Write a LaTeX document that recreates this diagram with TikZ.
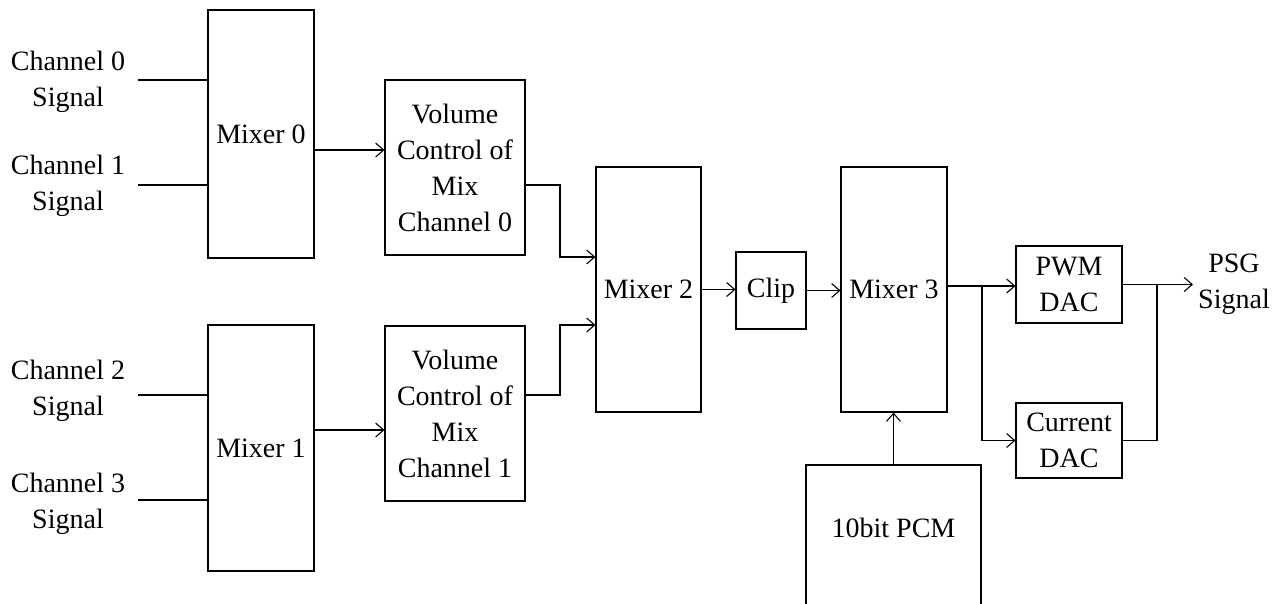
\documentclass[tikz,border=0pt]{standalone}
\usepackage{fontspec}
\setmainfont{Liberation Serif}
\usetikzlibrary{calc,arrows.meta}
\begin{document}
\begin{tikzpicture}[x=1pt,y=-1pt,
  txt/.style={align=center,inner sep=0pt,font=\fontsize{28}{36}\selectfont},
  blk/.style={draw,line width=1.1pt,txt},
  ln/.style={line width=1.1pt},
  arr/.style={ln,-{Straight Barb[length=8pt,width=14pt,line width=1.1pt]}}]
\useasboundingbox (0,0) rectangle (1284,603);
% labels
\node[txt] (ch0) at (68,82) {Channel 0\\Signal};
\node[txt] (ch1) at (68,186) {Channel 1\\Signal};
\node[txt] (ch2) at (68,391) {Channel 2\\Signal};
\node[txt] (ch3) at (68,504) {Channel 3\\Signal};
\node[txt] (psg) at (1234,284) {PSG\\Signal};
% boxes
\node[blk,minimum width=106pt,minimum height=248pt] (m0) at (261,134) {Mixer 0};
\node[blk,minimum width=106pt,minimum height=246pt] (m1) at (261,448) {Mixer 1};
\node[blk,minimum width=140pt,minimum height=175pt] (v0) at (455,167.5) {Volume\\Control of\\Mix\\Channel 0};
\node[blk,minimum width=140pt,minimum height=175pt] (v1) at (455,413.5) {Volume\\Control of\\Mix\\Channel 1};
\node[blk,minimum width=105pt,minimum height=245pt] (m2) at (648.5,289.5) {Mixer 2};
\node[blk,minimum width=70pt,minimum height=77pt] (clip) at (771,290.5) {Clip};
\node[blk,minimum width=106pt,minimum height=245pt] (m3) at (894,289.5) {Mixer 3};
\node[blk,minimum width=106pt,minimum height=77pt] (pwm) at (1069,284.5) {PWM\\DAC};
\node[blk,minimum width=106pt,minimum height=75pt] (cur) at (1069,440.5) {Current\\DAC};
\node[blk,minimum width=175pt,minimum height=150pt] (pcm) at (893.5,540) {};
\node[txt] (pcmt) at (893.5,528) {10bit PCM};
% input lines
\coordinate (i0) at (138,80);
\coordinate (i1) at (138,185);
\coordinate (i2) at (138,395);
\coordinate (i3) at (138,500);
\draw[ln] (i0) -- (i0 -| m0.west);
\draw[ln] (i1) -- (i1 -| m0.west);
\draw[ln] (i2) -- (i2 -| m1.west);
\draw[ln] (i3) -- (i3 -| m1.west);
% mixers to volume
\draw[arr] ($(m0.east)+(0,16)$) coordinate (a0) -- (a0 -| v0.west);
\draw[arr] ($(m1.east)+(0,-18)$) coordinate (a1) -- (a1 -| v1.west);
% volume to mixer 2
\coordinate (j0) at (560,257);
\coordinate (j1) at (560,325);
\draw[arr] ($(v0.east)+(0,17.5)$) -| (j0) -- (j0 -| m2.west);
\draw[arr] ($(v1.east)+(0,-18.5)$) -| (j1) -- (j1 -| m2.west);
% chain
\draw[arr] (m2.east) -- (m2.east -| clip.west);
\draw[arr] (clip.east) -- (clip.east -| m3.west);
\coordinate (j2) at (982,286);
\draw[arr] (j2 -| m3.east) -- (j2 -| pwm.west);
\draw[arr] (j2) |- (cur.west);
\coordinate (j3) at (1157,284.5);
\coordinate (o) at (1193,284.5);
\draw[arr] (pwm.east) -- (o);
\draw[ln] (cur.east) -| (j3);
\draw[arr] (pcm.north) -- (pcm.north |- m3.south);
\end{tikzpicture}
\end{document}
